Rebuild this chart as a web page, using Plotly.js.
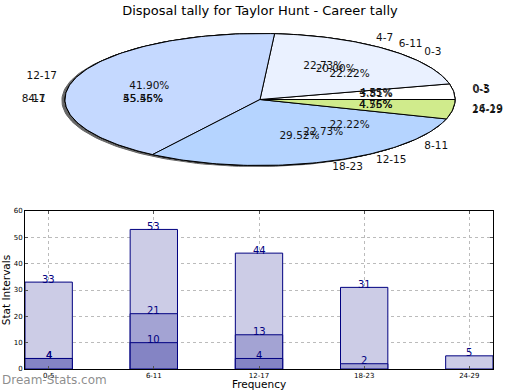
<!DOCTYPE html>
<html>
<head>
<meta charset="utf-8">
<script src="https://cdn.plot.ly/plotly-3.0.1.min.js"></script>
<style>html,body{margin:0;padding:0;background:#fff;}#chart{width:520px;height:390px;}</style>
</head>
<body>
<div id="chart"></div>
<script>
// ---- Pie data (three overlaid tallies) ----
var pieLabels1 = ['0-5', '6-11', '12-17', '18-23', '24-29'];
var pieValues1 = [4, 21, 44, 31, 5];
var pieLabels2 = ['0-3', '4-7', '8-11', '12-15', '16-19'];
var pieValues2 = [1, 5, 10, 5, 1];
var pieLabels3 = ['0-3', '4-7', '8-11'];
var pieValues3 = [2, 5, 2];

// ---- Bar data ----
var barCategories = ['0-5', '6-11', '12-17', '18-23', '24-29'];
var barSeriesA = [33, 53, 44, 31, 5];
var barSeriesB = [4, 21, 13, 2, null];
var barSeriesC = [4, 10, 4, null, null];

var sliceColors = ['#ffffff', '#eaf1ff', '#c5d9ff', '#b5d4ff', '#d0eb8c'];
var barColors = ['#ccccE6', '#a3a3d3', '#8484c4'];

var traces = [];
var FONT = 'DejaVu Sans, sans-serif';

// shadow ellipse
(function () {
  var xs = [], ys = [];
  for (var i = 0; i <= 200; i++) {
    var t = 2 * Math.PI * i / 200;
    xs.push(-0.016 + Math.cos(t)); ys.push(-0.016 + Math.sin(t));
  }
  traces.push({type: 'scatter', mode: 'lines', x: xs, y: ys, fill: 'toself',
    fillcolor: '#666666', line: {color: '#666666', width: 1},
    xaxis: 'x2', yaxis: 'y2', hoverinfo: 'skip', showlegend: false});
})();

function addPie(labels, values) {
  var total = values.reduce(function (a, b) { return a + b; }, 0);
  var cum = 0;
  var px = [], py = [], pt = [], lx = [], ly = [], lt = [], lpos = [];
  for (var k = 0; k < values.length; k++) {
    var a0 = 2 * Math.PI * cum / total;
    cum += values[k];
    var a1 = 2 * Math.PI * cum / total;
    var xs = [0], ys = [0];
    var n = Math.max(4, Math.ceil((a1 - a0) / 0.02));
    for (var i = 0; i <= n; i++) {
      var t = a0 + (a1 - a0) * i / n;
      xs.push(Math.cos(t)); ys.push(Math.sin(t));
    }
    xs.push(0); ys.push(0);
    traces.push({type: 'scatter', mode: 'lines', x: xs, y: ys, fill: 'toself',
      fillcolor: sliceColors[k % sliceColors.length], line: {color: '#000000', width: 1},
      xaxis: 'x2', yaxis: 'y2', hoverinfo: 'skip', showlegend: false});
    var am = (a0 + a1) / 2;
    px.push(0.6 * Math.cos(am)); py.push(0.6 * Math.sin(am));
    pt.push((100 * values[k] / total).toFixed(2) + '%');
    lx.push(1.1 * Math.cos(am)); ly.push(1.1 * Math.sin(am));
    lt.push(labels[k]);
    lpos.push(Math.cos(am) > 0 ? 'middle right' : 'middle left');
  }
  return {px: px, py: py, pt: pt, lx: lx, ly: ly, lt: lt, lpos: lpos};
}

var textSets = [addPie(pieLabels3, pieValues3), addPie(pieLabels2, pieValues2), addPie(pieLabels1, pieValues1)];
textSets.forEach(function (s) {
  traces.push({type: 'scatter', mode: 'text', x: s.px, y: s.py, text: s.pt,
    textposition: 'middle center', textfont: {family: FONT, size: 10.5, color: '#111'},
    xaxis: 'x2', yaxis: 'y2', hoverinfo: 'skip', showlegend: false});
  traces.push({type: 'scatter', mode: 'text', x: s.lx, y: s.ly, text: s.lt,
    textposition: s.lpos, textfont: {family: FONT, size: 10.5, color: '#111'},
    xaxis: 'x2', yaxis: 'y2', hoverinfo: 'skip', showlegend: false});
});

// bars
[barSeriesA, barSeriesB, barSeriesC].forEach(function (ser, j) {
  traces.push({type: 'bar', x: barCategories, y: ser, width: 0.45,
    marker: {color: barColors[j], line: {color: '#000080', width: 1}},
    xaxis: 'x', yaxis: 'y', hoverinfo: 'skip', showlegend: false});
});

var annotations = [];
[barSeriesA, barSeriesB, barSeriesC].forEach(function (ser) {
  ser.forEach(function (v, i) {
    if (v === null) return;
    annotations.push({x: barCategories[i], y: v, xref: 'x', yref: 'y', text: String(v),
      showarrow: false, yanchor: 'middle', xanchor: 'center', yshift: 3,
      font: {family: FONT, size: 10, color: '#000080'}});
  });
});
annotations.push({xref: 'paper', yref: 'paper', x: 0, y: 10 / 390, xanchor: 'left', yanchor: 'middle',
  text: 'Dream-Stats.com', showarrow: false,
  font: {family: FONT, size: 12, color: 'rgba(120,120,120,0.85)'}});

var layout = {
  width: 520, height: 390,
  margin: {l: 0, r: 0, t: 0, b: 0},
  paper_bgcolor: '#ffffff', plot_bgcolor: '#ffffff',
  title: {text: 'Disposal tally for Taylor Hunt - Career tally', x: 0.5, xanchor: 'center',
    y: 1 - 10 / 390, yanchor: 'middle', font: {family: FONT, size: 13, color: '#000'}},
  xaxis2: {domain: [0, 1], range: [-260 / 195, 260 / 195], anchor: 'y2', visible: false, fixedrange: true},
  yaxis2: {domain: [195 / 390, 1], range: [(99.5 - 195) / 66, 99.5 / 66], anchor: 'x2', visible: false, fixedrange: true},
  xaxis: {domain: [25 / 520, 493 / 520], anchor: 'y', type: 'category', range: [-0.225, 4.225],
    showgrid: true, gridcolor: '#bbbbbb', griddash: 'dot', gridwidth: 1,
    showline: true, linecolor: '#000', linewidth: 1, mirror: 'ticks',
    ticks: 'inside', ticklen: 3, tickcolor: '#555',
    tickfont: {family: FONT, size: 7, color: '#000'},
    title: {text: 'Frequency', font: {family: FONT, size: 10.5, color: '#000'}, standoff: 4},
    zeroline: false, automargin: false},
  yaxis: {domain: [21 / 390, 179 / 390], anchor: 'x', range: [0, 60], dtick: 10,
    showgrid: true, gridcolor: '#bbbbbb', griddash: 'dot', gridwidth: 1,
    showline: true, linecolor: '#000', linewidth: 1, mirror: 'ticks',
    ticks: 'inside', ticklen: 3, tickcolor: '#555',
    tickfont: {family: FONT, size: 7, color: '#000'},
    title: {text: 'Stat Intervals', font: {family: FONT, size: 10.5, color: '#000'}, standoff: 1},
    zeroline: false, automargin: false},
  barmode: 'overlay',
  annotations: annotations,
  showlegend: false
};

Plotly.newPlot('chart', traces, layout, {staticPlot: true, displayModeBar: false});
</script>
</body>
</html>
